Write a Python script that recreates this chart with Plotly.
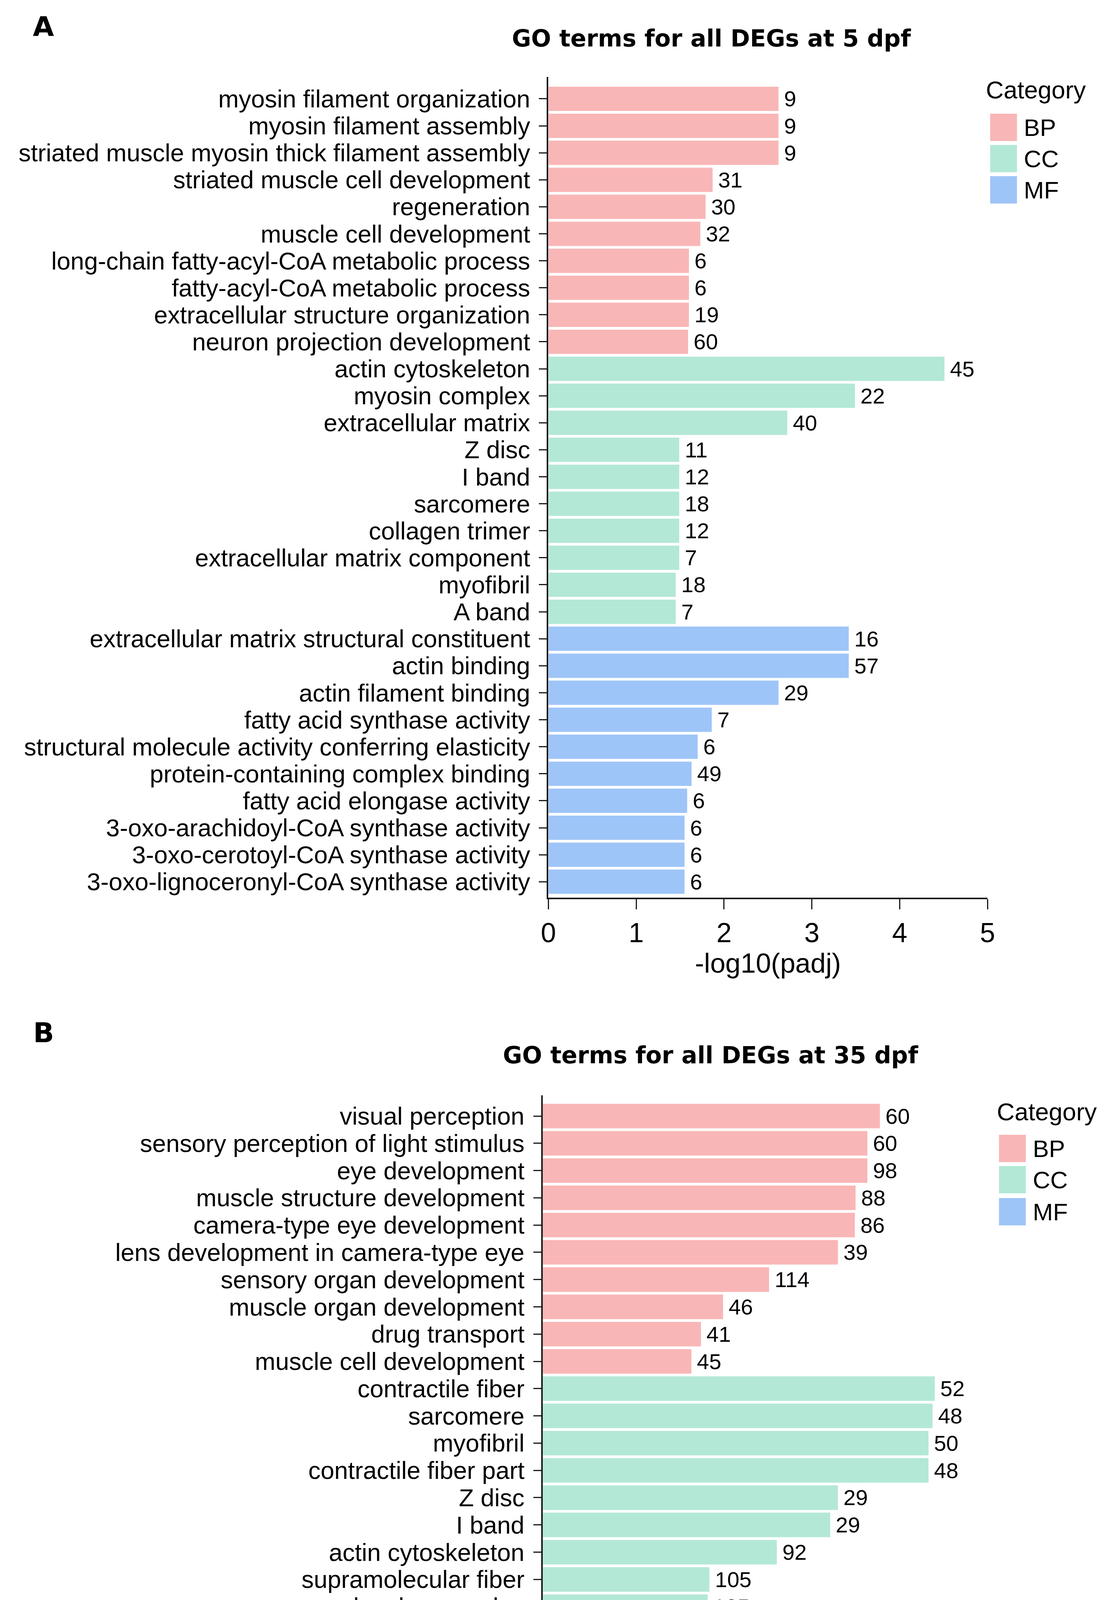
import plotly.graph_objects as go

W, H = 2856, 5139

colors = {'BP': '#F9B6B6', 'CC': '#B3E8D6', 'MF': '#9EC5F8'}
legend_cats = ['BP', 'CC', 'MF']

# panel A: 5 dpf
terms_5dpf = [
    'myosin filament organization', 'myosin filament assembly',
    'striated muscle myosin thick filament assembly', 'striated muscle cell development',
    'regeneration', 'muscle cell development',
    'long-chain fatty-acyl-CoA metabolic process', 'fatty-acyl-CoA metabolic process',
    'extracellular structure organization', 'neuron projection development',
    'actin cytoskeleton', 'myosin complex', 'extracellular matrix', 'Z disc', 'I band',
    'sarcomere', 'collagen trimer', 'extracellular matrix component', 'myofibril', 'A band',
    'extracellular matrix structural constituent', 'actin binding', 'actin filament binding',
    'fatty acid synthase activity', 'structural molecule activity conferring elasticity',
    'protein-containing complex binding', 'fatty acid elongase activity',
    '3-oxo-arachidoyl-CoA synthase activity', '3-oxo-cerotoyl-CoA synthase activity',
    '3-oxo-lignoceronyl-CoA synthase activity',
]
padj_5dpf = [2.62, 2.62, 2.62, 1.87, 1.79, 1.73, 1.60, 1.60, 1.60, 1.59,
             4.51, 3.49, 2.72, 1.49, 1.49, 1.49, 1.49, 1.49, 1.45, 1.45,
             3.42, 3.42, 2.62, 1.86, 1.70, 1.63, 1.58, 1.55, 1.55, 1.55]
count_5dpf = [9, 9, 9, 31, 30, 32, 6, 6, 19, 60,
              45, 22, 40, 11, 12, 18, 12, 7, 18, 7,
              16, 57, 29, 7, 6, 49, 6, 6, 6, 6]
cat_5dpf = ['BP', 'BP', 'BP', 'BP', 'BP', 'BP', 'BP', 'BP', 'BP', 'BP',
            'CC', 'CC', 'CC', 'CC', 'CC', 'CC', 'CC', 'CC', 'CC', 'CC',
            'MF', 'MF', 'MF', 'MF', 'MF', 'MF', 'MF', 'MF', 'MF', 'MF']

# panel B: 35 dpf
terms_35dpf = [
    'visual perception', 'sensory perception of light stimulus', 'eye development',
    'muscle structure development', 'camera-type eye development',
    'lens development in camera-type eye', 'sensory organ development',
    'muscle organ development', 'drug transport', 'muscle cell development',
    'contractile fiber', 'sarcomere', 'myofibril', 'contractile fiber part', 'Z disc',
    'I band', 'actin cytoskeleton', 'supramolecular fiber', 'supramolecular complex',
    'supramolecular polymer',
    'structural constituent of eye lens', 'actin binding', 'protein-containing complex binding',
    'actin filament binding', 'actinin binding', 'cofactor binding',
    'glucuronosyltransferase activity', 'tetrapyrrole binding',
    'solute:cation symporter activity', 'phosphofructokinase activity',
]
padj_35dpf = [9.16, 8.82, 8.82, 8.50, 8.48, 8.02, 6.15, 4.90, 4.30, 4.04,
              10.65, 10.59, 10.48, 10.48, 8.02, 7.81, 6.36, 4.53, 4.48, 4.48,
              8.84, 4.97, 2.50, 2.11, 2.11, 2.11, 2.06, 1.79, 1.62, 1.47]
count_35dpf = [60, 60, 98, 88, 86, 39, 114, 46, 41, 45,
               52, 48, 50, 48, 29, 29, 92, 105, 105, 105,
               36, 110, 122, 61, 9, 111, 15, 46, 27, 8]
cat_35dpf = ['BP', 'BP', 'BP', 'BP', 'BP', 'BP', 'BP', 'BP', 'BP', 'BP',
             'CC', 'CC', 'CC', 'CC', 'CC', 'CC', 'CC', 'CC', 'CC', 'CC',
             'MF', 'MF', 'MF', 'MF', 'MF', 'MF', 'MF', 'MF', 'MF', 'MF']

ticks_5dpf = [0, 1, 2, 3, 4, 5]
ticks_35dpf = [0, 3, 6, 9, 12]

SANS = 'Liberation Sans, Arial, sans-serif'
BOLD = 'DejaVu Sans, Verdana, sans-serif'


def px_x(p):
    return p / W


def px_y(p):
    return 1 - p / H


fig = go.Figure()

panels = [
    dict(terms=terms_5dpf, vals=padj_5dpf, counts=count_5dpf, cats=cat_5dpf, ticks=ticks_5dpf,
         xa='x', ya='y', left=1405, right=2552, top=189, bottom=2290, yr=[29.59, -0.81],
         title='GO terms for all DEGs at 5 dpf', title_x=1831, title_y=90,
         tag='A', tag_x=86, tag_y=60, leg_x=2559, leg_title_x=2546, leg_title_y=222,
         leg_y=[283, 363, 443]),
    dict(terms=terms_35dpf, vals=padj_35dpf, counts=count_35dpf, cats=cat_35dpf, ticks=ticks_35dpf,
         xa='x2', ya='y2', left=1390, right=2544, top=2796, bottom=4916, yr=[29.62, -0.76],
         title='GO terms for all DEGs at 35 dpf', title_x=1829, title_y=2693,
         tag='B', tag_x=86, tag_y=2636, leg_x=2582, leg_title_x=2574, leg_title_y=2838,
         leg_y=[2897, 2977, 3059]),
]

annotations = []
shapes = []

for i, p in enumerate(panels):
    fig.add_trace(go.Bar(
        x=p['vals'], y=p['terms'], orientation='h',
        marker=dict(color=[colors[c] for c in p['cats']], line=dict(width=0)),
        width=0.9,
        text=p['counts'], texttemplate='\u2009%{text}', textposition='outside',
        constraintext='none', cliponaxis=False,
        textfont=dict(family=SANS, size=56, color='black'),
        xaxis=p['xa'], yaxis=p['ya'], showlegend=False, hoverinfo='x+y',
    ))

    sfx = '' if i == 0 else str(i + 1)
    fig.update_layout(**{
        'xaxis' + sfx: dict(
            domain=[px_x(p['left']), px_x(p['right'])], anchor=p['ya'],
            range=[0, p['ticks'][-1]], tickmode='array', tickvals=p['ticks'],
            showline=True, linewidth=4, linecolor='#1a1a1a', ticks='outside',
            ticklen=26, tickwidth=3, tickcolor='#1a1a1a', ticklabelstandoff=0,
            tickfont=dict(family=SANS, size=70, color='black'),
            showgrid=False, zeroline=False,
            title=dict(text='-log10(padj)', font=dict(family=SANS, size=70, color='black'),
                       standoff=2),
        ),
        'yaxis' + sfx: dict(
            domain=[px_y(p['bottom']), px_y(p['top'])], anchor=p['xa'],
            type='category', categoryorder='array', categoryarray=p['terms'],
            range=p['yr'], tickmode='array', tickvals=p['terms'],
            showline=True, linewidth=4, linecolor='#1a1a1a', ticks='outside',
            ticklen=20, tickwidth=3, tickcolor='#1a1a1a', ticklabelstandoff=10,
            tickfont=dict(family=SANS, size=63, color='black'),
            showgrid=False, zeroline=False,
        ),
    })

    annotations.append(dict(text='<b>' + p['title'] + '</b>', x=px_x(p['title_x']), y=px_y(p['title_y']),
                            xref='paper', yref='paper', xanchor='center', yanchor='middle',
                            showarrow=False, font=dict(family=BOLD, size=60, color='black')))
    annotations.append(dict(text='<b>' + p['tag'] + '</b>', x=px_x(p['tag_x']), y=px_y(p['tag_y']),
                            xref='paper', yref='paper', xanchor='center', yanchor='middle',
                            showarrow=False, font=dict(family=BOLD, size=70, color='black')))
    annotations.append(dict(text='Category', x=px_x(p['leg_title_x']), y=px_y(p['leg_title_y']),
                            xref='paper', yref='paper', xanchor='left', yanchor='middle',
                            showarrow=False, font=dict(family=SANS, size=63, color='black')))
    for cat, ytop in zip(legend_cats, p['leg_y']):
        shapes.append(dict(type='rect', xref='paper', yref='paper',
                           x0=px_x(p['leg_x']), x1=px_x(p['leg_x'] + 70),
                           y0=px_y(ytop + 70), y1=px_y(ytop),
                           fillcolor=colors[cat], line=dict(width=0)))
        annotations.append(dict(text=cat, x=px_x(p['leg_x'] + 86), y=px_y(ytop + 35),
                                xref='paper', yref='paper', xanchor='left', yanchor='middle',
                                showarrow=False, font=dict(family=SANS, size=62, color='black')))

fig.update_layout(
    width=W, height=H,
    margin=dict(l=0, r=0, t=0, b=0),
    paper_bgcolor='white', plot_bgcolor='white',
    barmode='overlay',
    annotations=annotations, shapes=shapes,
    showlegend=False,
)

fig.write_html('out.html')
